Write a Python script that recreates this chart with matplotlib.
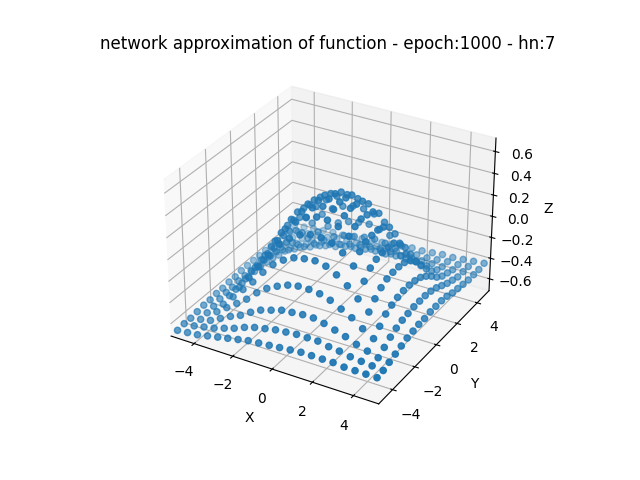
import matplotlib
matplotlib.use("Agg")
import matplotlib.pyplot as plt
import numpy as np

x_values = [-5.0, -4.47, -3.95, -3.42, -2.89, -2.37, -1.84, -1.32, -0.79, -0.26,
            0.26, 0.79, 1.32, 1.84, 2.37, 2.89, 3.42, 3.95, 4.47, 5.0]
y_values = [-5.0, -4.47, -3.95, -3.42, -2.89, -2.37, -1.84, -1.32, -0.79, -0.26,
            0.26, 0.79, 1.32, 1.84, 2.37, 2.89, 3.42, 3.95, 4.47, 5.0]

# network output, one row per y value (columns follow x_values)
z_rows = [
    [-0.67,-0.66,-0.65,-0.63,-0.61,-0.59,-0.57,-0.55,-0.54,-0.53,-0.52,-0.51,-0.50,-0.50,-0.50,-0.50,-0.51,-0.51,-0.51,-0.51],
    [-0.66,-0.65,-0.63,-0.61,-0.58,-0.55,-0.51,-0.48,-0.46,-0.44,-0.43,-0.42,-0.42,-0.42,-0.44,-0.45,-0.47,-0.48,-0.49,-0.50],
    [-0.66,-0.64,-0.62,-0.57,-0.52,-0.48,-0.42,-0.37,-0.34,-0.31,-0.30,-0.29,-0.29,-0.31,-0.34,-0.37,-0.41,-0.44,-0.47,-0.48],
    [-0.65,-0.63,-0.59,-0.52,-0.45,-0.38,-0.29,-0.22,-0.17,-0.13,-0.11,-0.11,-0.12,-0.15,-0.20,-0.25,-0.32,-0.38,-0.43,-0.46],
    [-0.64,-0.62,-0.57,-0.47,-0.37,-0.27,-0.15,-0.05,0.02,0.07,0.09,0.10,0.08,0.03,-0.04,-0.13,-0.22,-0.32,-0.39,-0.44],
    [-0.64,-0.60,-0.54,-0.43,-0.31,-0.18,-0.04,0.09,0.17,0.23,0.26,0.26,0.24,0.18,0.09,-0.02,-0.15,-0.26,-0.36,-0.42],
    [-0.63,-0.59,-0.53,-0.40,-0.26,-0.12,0.04,0.18,0.27,0.34,0.37,0.37,0.34,0.28,0.17,0.05,-0.10,-0.23,-0.34,-0.41],
    [-0.63,-0.59,-0.52,-0.38,-0.24,-0.09,0.07,0.22,0.32,0.38,0.42,0.42,0.39,0.32,0.21,0.08,-0.07,-0.21,-0.33,-0.40],
    [-0.62,-0.58,-0.51,-0.38,-0.23,-0.08,0.09,0.24,0.34,0.40,0.44,0.44,0.41,0.34,0.22,0.09,-0.06,-0.20,-0.32,-0.40],
    [-0.62,-0.58,-0.51,-0.37,-0.23,-0.08,0.09,0.23,0.33,0.40,0.44,0.43,0.40,0.33,0.22,0.09,-0.06,-0.20,-0.32,-0.39],
    [-0.61,-0.58,-0.51,-0.38,-0.24,-0.09,0.07,0.21,0.31,0.37,0.41,0.41,0.38,0.31,0.20,0.08,-0.07,-0.21,-0.32,-0.39],
    [-0.61,-0.58,-0.52,-0.39,-0.27,-0.13,0.02,0.15,0.24,0.30,0.34,0.33,0.31,0.25,0.15,0.03,-0.10,-0.23,-0.33,-0.39],
    [-0.61,-0.58,-0.53,-0.42,-0.32,-0.20,-0.08,0.03,0.11,0.16,0.19,0.19,0.17,0.12,0.04,-0.06,-0.16,-0.27,-0.35,-0.40],
    [-0.61,-0.59,-0.55,-0.47,-0.39,-0.30,-0.21,-0.13,-0.07,-0.03,-0.01,0.00,-0.02,-0.05,-0.11,-0.17,-0.25,-0.32,-0.38,-0.42],
    [-0.61,-0.59,-0.56,-0.51,-0.46,-0.40,-0.34,-0.28,-0.24,-0.22,-0.20,-0.19,-0.20,-0.22,-0.25,-0.29,-0.33,-0.38,-0.41,-0.43],
    [-0.61,-0.60,-0.58,-0.54,-0.51,-0.47,-0.43,-0.40,-0.37,-0.35,-0.34,-0.33,-0.33,-0.34,-0.36,-0.37,-0.40,-0.42,-0.43,-0.44],
    [-0.61,-0.60,-0.58,-0.56,-0.54,-0.52,-0.50,-0.47,-0.46,-0.44,-0.43,-0.43,-0.42,-0.42,-0.42,-0.43,-0.44,-0.44,-0.45,-0.45],
    [-0.61,-0.60,-0.58,-0.57,-0.56,-0.54,-0.53,-0.52,-0.50,-0.49,-0.48,-0.48,-0.47,-0.46,-0.46,-0.46,-0.46,-0.46,-0.45,-0.45],
    [-0.60,-0.59,-0.58,-0.57,-0.56,-0.55,-0.54,-0.53,-0.52,-0.51,-0.50,-0.50,-0.49,-0.48,-0.48,-0.47,-0.46,-0.46,-0.45,-0.45],
    [-0.60,-0.59,-0.58,-0.57,-0.56,-0.56,-0.55,-0.54,-0.53,-0.52,-0.51,-0.50,-0.49,-0.49,-0.48,-0.47,-0.47,-0.46,-0.45,-0.44],
]

x_limits = (-5.21, 5.21)
y_limits = (-5.21, 5.21)
z_limits = (-0.716, 0.722)

title_text = "network approximation of function - epoch:1000 - hn:7"

X, Y = np.meshgrid(np.array(x_values), np.array(y_values))
Z = np.array(z_rows)

fig = plt.figure(figsize=(6.4, 4.8), dpi=100)
ax = fig.add_subplot(projection="3d")
ax.scatter(X.ravel(), Y.ravel(), Z.ravel())
ax.set_xlim(*x_limits)
ax.set_ylim(*y_limits)
ax.set_zlim(*z_limits)
ax.set_title(title_text)
ax.set_xlabel("X")
ax.set_ylabel("Y")
ax.set_zlabel("Z")
fig.savefig("out.png")
